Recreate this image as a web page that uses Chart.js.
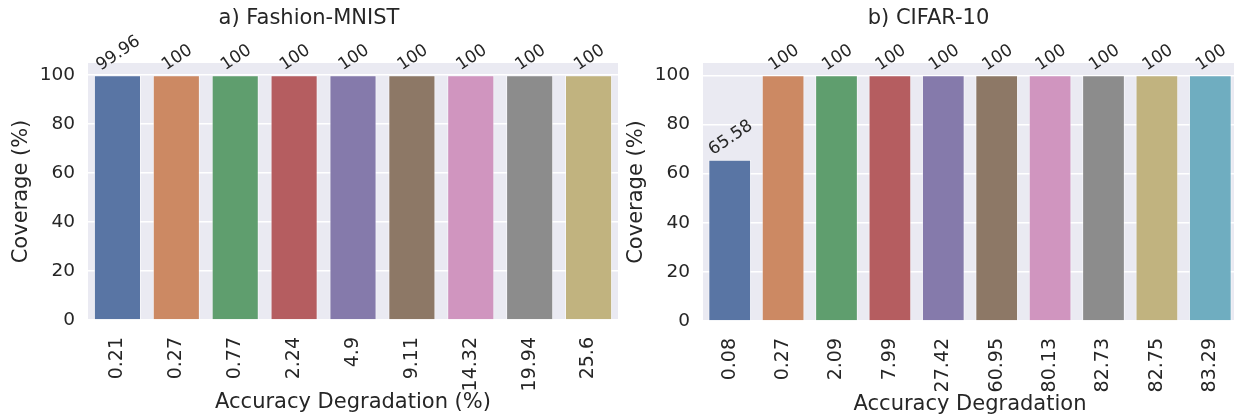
<!DOCTYPE html>
<html>
<head>
<meta charset="utf-8">
<script src="https://cdn.jsdelivr.net/npm/chart.js@4"></script>
<style>
  html, body { margin: 0; padding: 0; background: #fff; overflow: hidden; width: 1234px; height: 419px; }
  #wrap { position: relative; width: 1234px; height: 419px; overflow: hidden; }
  .panel { position: absolute; top: 0; height: 419px; width: 620px; }
  #p1 { left: 0; }
  #p2 { left: 620px; }
</style>
</head>
<body>
<div id="wrap">
  <div class="panel" id="p1"><canvas id="c1"></canvas></div>
  <div class="panel" id="p2"><canvas id="c2"></canvas></div>
</div>
<script>
// Fashion-MNIST: accuracy degradation (%) per setting and coverage (%)
const fmnistDegradation = ['0.21', '0.27', '0.77', '2.24', '4.9', '9.11', '14.32', '19.94', '25.6'];
const fmnistCoverage = [99.96, 100, 100, 100, 100, 100, 100, 100, 100];

// CIFAR-10: accuracy degradation per setting and coverage (%)
const cifarDegradation = ['0.08', '0.27', '2.09', '7.99', '27.42', '60.95', '80.13', '82.73', '82.75', '83.29'];
const cifarCoverage = [65.58, 100, 100, 100, 100, 100, 100, 100, 100, 100];

// y-axis tick values
const coverageTicks = [0, 20, 40, 60, 80, 100];

// muted categorical palette
const palette = ['#5975a4', '#cc8963', '#5f9e6e', '#b55d60', '#857aab',
                 '#8d7866', '#d095bf', '#8c8c8c', '#c1b37f', '#6fadc0'];

const TEXT = '#262626';
Chart.defaults.font.family = '"DejaVu Sans", sans-serif';
Chart.defaults.color = TEXT;

// grey panel background behind the bars
const panelBackground = {
  id: 'panelBackground',
  beforeDraw(chart) {
    const { ctx, chartArea: a } = chart;
    ctx.save();
    ctx.fillStyle = '#eaeaf2';
    ctx.fillRect(a.left, a.top, a.right - a.left, a.bottom - a.top);
    ctx.restore();
  }
};

// rotated value annotations above each bar
const valueLabels = {
  id: 'valueLabels',
  afterDatasetsDraw(chart) {
    const ctx = chart.ctx;
    const meta = chart.getDatasetMeta(0);
    const vals = chart.data.datasets[0].data;
    const fs = 17;
    const ang = 34 * Math.PI / 180;
    ctx.save();
    ctx.font = fs + 'px "DejaVu Sans"';
    ctx.fillStyle = TEXT;
    ctx.textAlign = 'center';
    ctx.textBaseline = 'middle';
    meta.data.forEach((bar, i) => {
      const txt = String(vals[i]);
      const w = ctx.measureText(txt).width;
      const h = fs * 0.75;
      const halfH = (w * Math.sin(ang) + h * Math.cos(ang)) / 2;
      ctx.save();
      ctx.translate(bar.x + 1, bar.y - 3 - halfH);
      ctx.rotate(-ang);
      ctx.fillText(txt, 0, 0);
      ctx.restore();
    });
    ctx.restore();
  }
};

function makePanel(id, titleText, xTitle, labels, values, g) {
  return new Chart(document.getElementById(id), {
    type: 'bar',
    data: {
      labels: labels,
      datasets: [{
        data: values,
        backgroundColor: palette.slice(0, values.length),
        borderColor: 'rgba(255,255,255,0.55)',
        borderWidth: 1,
        categoryPercentage: 1.0,
        barPercentage: 0.8
      }]
    },
    options: {
      responsive: true,
      maintainAspectRatio: false,
      animation: false,
      layout: { padding: { left: 0, right: g.padRight, top: 0, bottom: 0 } },
      plugins: {
        legend: { display: false },
        tooltip: { enabled: false },
        title: {
          display: true,
          text: titleText,
          color: TEXT,
          font: { size: 21, weight: 'normal' },
          padding: { top: 6, bottom: g.titleGap }
        }
      },
      scales: {
        x: {
          grid: { display: false, drawTicks: false },
          border: { display: false },
          ticks: {
            autoSkip: false,
            minRotation: 90,
            maxRotation: 90,
            padding: 17,
            color: TEXT,
            font: { size: 19 }
          },
          title: {
            display: true,
            text: xTitle,
            color: TEXT,
            font: { size: 21 },
            padding: { top: 0, bottom: g.xTitlePad }
          },
          afterFit(scale) {
            scale.height = g.xAxisHeight;
            scale.paddingLeft = 0;
            scale.paddingRight = 0;
          }
        },
        y: {
          min: 0,
          max: 105,
          grid: { color: '#ffffff', lineWidth: 1.5, drawTicks: false },
          border: { display: false },
          afterBuildTicks(scale) {
            scale.ticks = coverageTicks.map(v => ({ value: v }));
          },
          ticks: {
            padding: 13,
            color: TEXT,
            font: { size: 18.5 }
          },
          title: {
            display: true,
            text: 'Coverage (%)',
            color: TEXT,
            font: { size: 21 },
            padding: { top: g.yTitlePad, bottom: 0 }
          },
          afterFit(scale) {
            scale.width = g.yAxisWidth;
            scale.paddingTop = 0;
            scale.paddingBottom = 0;
          }
        }
      }
    },
    plugins: [panelBackground, valueLabels]
  });
}

makePanel('c1', 'a) Fashion-MNIST', 'Accuracy Degradation (%)',
  fmnistDegradation, fmnistCoverage,
  { padRight: 2, titleGap: 31.8, xAxisHeight: 99, xTitlePad: 3.4, yTitlePad: 9.4, yAxisWidth: 88 });

makePanel('c2', 'b) CIFAR-10', 'Accuracy Degradation',
  cifarDegradation, cifarCoverage,
  { padRight: 3, titleGap: 31.8, xAxisHeight: 98, xTitlePad: 1.5, yTitlePad: 4.4, yAxisWidth: 83 });
</script>
</body>
</html>
